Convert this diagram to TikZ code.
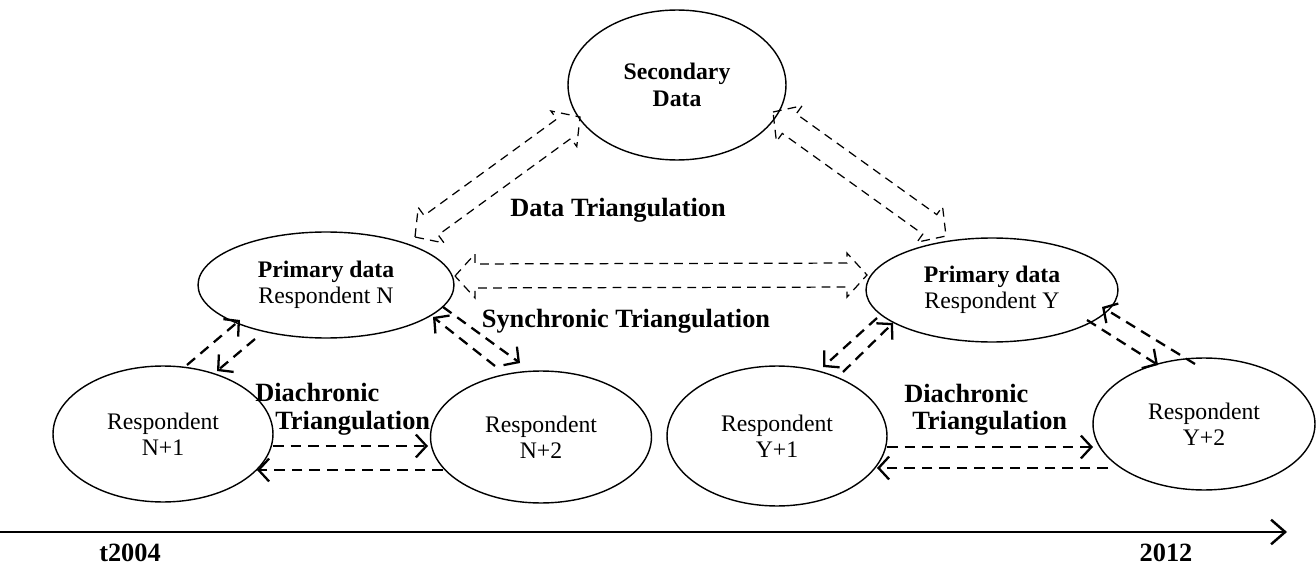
\documentclass[tikz,border=0pt]{standalone}
\usepackage{fontspec}
\setmainfont{Liberation Serif}
\usetikzlibrary{shapes.geometric,arrows.meta,calc}
\newcommand\dblarr[2]{%
\draw[barr] (#1) -- ($(#1)!0.4cm!(#2)!0.44cm!90:(#2)$) -- ($(#1)!0.4cm!(#2)!0.24cm!90:(#2)$)
 -- ($(#2)!0.4cm!(#1)!0.24cm!-90:(#1)$) -- ($(#2)!0.4cm!(#1)!0.44cm!-90:(#1)$) -- (#2)
 -- ($(#2)!0.4cm!(#1)!0.44cm!90:(#1)$) -- ($(#2)!0.4cm!(#1)!0.24cm!90:(#1)$)
 -- ($(#1)!0.4cm!(#2)!0.24cm!-90:(#2)$) -- ($(#1)!0.4cm!(#2)!0.44cm!-90:(#2)$) -- cycle;}
\begin{document}
\begin{tikzpicture}[x=0.02cm,y=-0.02cm,
  ell/.style={ellipse, draw, line width=0.8pt, inner sep=0pt, align=center, font=\fontsize{13.5}{15}\selectfont},
  lbl/.style={font=\fontsize{15}{17.5}\selectfont\bfseries, inner sep=0pt},
  sarr/.style={line width=1.3pt, dash pattern=on 6pt off 4pt, -{Straight Barb[length=6pt,width=13pt]}},
  barr/.style={line width=0.7pt, dash pattern=on 5pt off 3.5pt, line join=miter},
  axisarr/.style={line width=1.4pt, -{Straight Barb[length=8pt,width=14pt]}}]
\useasboundingbox (0,0) rectangle (1316,571);
% ellipses
\node[ell, minimum width=4.36cm, minimum height=3.0cm] (sec) at (677,85) {\textbf{Secondary}\\\textbf{Data}};
\node[ell, minimum width=5.12cm, minimum height=2.12cm] (pN) at (326,285) {\textbf{Primary data}\\Respondent N};
\node[ell, minimum width=5.04cm, minimum height=2.08cm] (pY) at (992,290) {\textbf{Primary data}\\Respondent Y};
\node[ell, minimum width=4.4cm, minimum height=2.72cm] (n1) at (163,434) {Respondent\\N+1};
\node[ell, minimum width=4.42cm, minimum height=2.64cm] (n2) at (541,437) {Respondent\\N+2};
\node[ell, minimum width=4.4cm, minimum height=2.8cm] (y1) at (777,436) {Respondent\\Y+1};
\node[ell, minimum width=4.44cm, minimum height=2.64cm] (y2) at (1204,424) {Respondent\\Y+2};
% labels
\node[lbl] (dt) at (618,210) {Data Triangulation};
\node[lbl] (st) at (626,321) {Synchronic Triangulation};
\node[lbl, anchor=west] (dl1) at (255,392) {Diachronic};
\node[lbl, anchor=west] (dl2) at (275,423) {Triangulation};
\node[lbl, anchor=west] (dr1) at (904,393) {Diachronic};
\node[lbl, anchor=west] (dr2) at (912,423) {Triangulation};
\node[lbl] (t0) at (130,553) {t2004};
\node[lbl] (t1) at (1166,553) {2012};
% block double arrows
\coordinate (b1a) at (415,237); \coordinate (b1b) at (580,117);
\coordinate (b2a) at (773,112); \coordinate (b2b) at (946,236);
\coordinate (b3a) at (455,276); \coordinate (b3b) at (867,275);
\dblarr{b1a}{b1b}
\dblarr{b2a}{b2b}
\dblarr{b3a}{b3b}
% small dashed arrows
\coordinate (a1s) at (187,365); \coordinate (a1e) at (240,320);
\coordinate (a2s) at (255,339); \coordinate (a2e) at (217,371);
\coordinate (c1s) at (495,366); \coordinate (c1e) at (433,317);
\coordinate (c2s) at (443,307); \coordinate (c2e) at (520,363);
\coordinate (h1s) at (273,446); \coordinate (h1e) at (428,446);
\coordinate (h2s) at (443,470); \coordinate (h2e) at (257,470);
\coordinate (d1s) at (843,372); \coordinate (d1e) at (893,323);
\coordinate (d2s) at (877,318); \coordinate (d2e) at (823,367);
\coordinate (e1s) at (1087,320); \coordinate (e1e) at (1158,365);
\coordinate (e2s) at (1195,364); \coordinate (e2e) at (1102,307);
\coordinate (f1s) at (887,447); \coordinate (f1e) at (1093,447);
\coordinate (f2s) at (1108,468); \coordinate (f2e) at (877,468);
\foreach \p in {a1,a2,c1,c2,h1,h2,d1,d2,e1,e2,f1,f2}
  \draw[sarr] (\p s) -- (\p e);
% time axis
\coordinate (ax0) at (0,532); \coordinate (ax1) at (1287,532);
\draw[axisarr] (ax0) -- (ax1);
\end{tikzpicture}
\end{document}
